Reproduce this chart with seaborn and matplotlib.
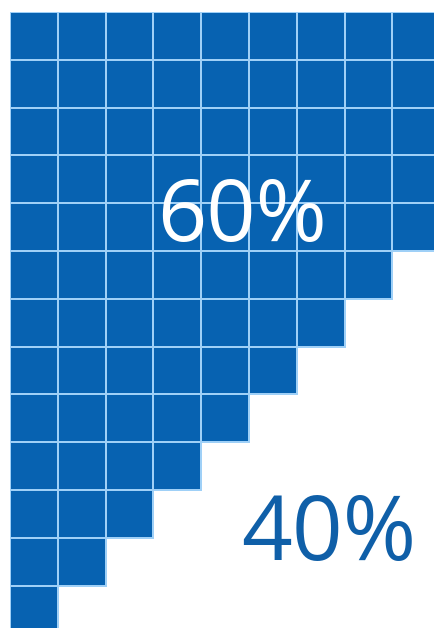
import numpy as np
import pandas as pd
import matplotlib
matplotlib.use("Agg")
import matplotlib.pyplot as plt
from matplotlib.colors import ListedColormap
import seaborn as sns

# Data
rows = list(range(13))
cols = list(range(9))
filled_per_row = [9, 9, 9, 9, 9, 8, 7, 6, 5, 4, 3, 2, 1]
labels = ["60%", "40%"]

sns.set_theme(style="white")
plt.rcParams['font.family'] = ['Open Sans', 'DejaVu Sans']

grid = np.array([[1.0 if c < n else np.nan for c in cols] for n in filled_per_row])
df = pd.DataFrame(grid, index=rows, columns=cols)
mask = df.isna()

W, H = 435, 628
fig = plt.figure(figsize=(W / 100, H / 100), dpi=100)
cell = 47.8
x0, y0 = 10, 12
ax = fig.add_axes([x0 / W, 0, (W - x0) / W, (H - y0) / H])

blue = "#0762b1"
line = "#9fd0f7"
sns.heatmap(df, mask=mask, cmap=ListedColormap([blue]), cbar=False,
            linewidths=1.3, linecolor=line, ax=ax,
            xticklabels=False, yticklabels=False)
# hide edges of masked (empty) cells
mesh = ax.collections[0]
arr = np.ma.getmaskarray(mesh.get_array()).ravel()
from matplotlib.colors import to_rgba
ec = np.array([to_rgba(line, 0.0) if m else to_rgba(line) for m in arr])
mesh.set_edgecolor(ec)

ax.set_xlim(0, (W - x0) / cell)
ax.set_ylim((H - y0) / cell, 0)
for s in ax.spines.values():
    s.set_visible(False)

ax.text((242 - x0) / cell, (219 - y0) / cell, labels[0], color="white",
        fontsize=62, ha="center", va="center")
ax.text((329 - x0) / cell, (537 - y0) / cell, labels[1], color="#0f5fa8",
        fontsize=64, ha="center", va="center")

fig.savefig("out.png", dpi=100)
